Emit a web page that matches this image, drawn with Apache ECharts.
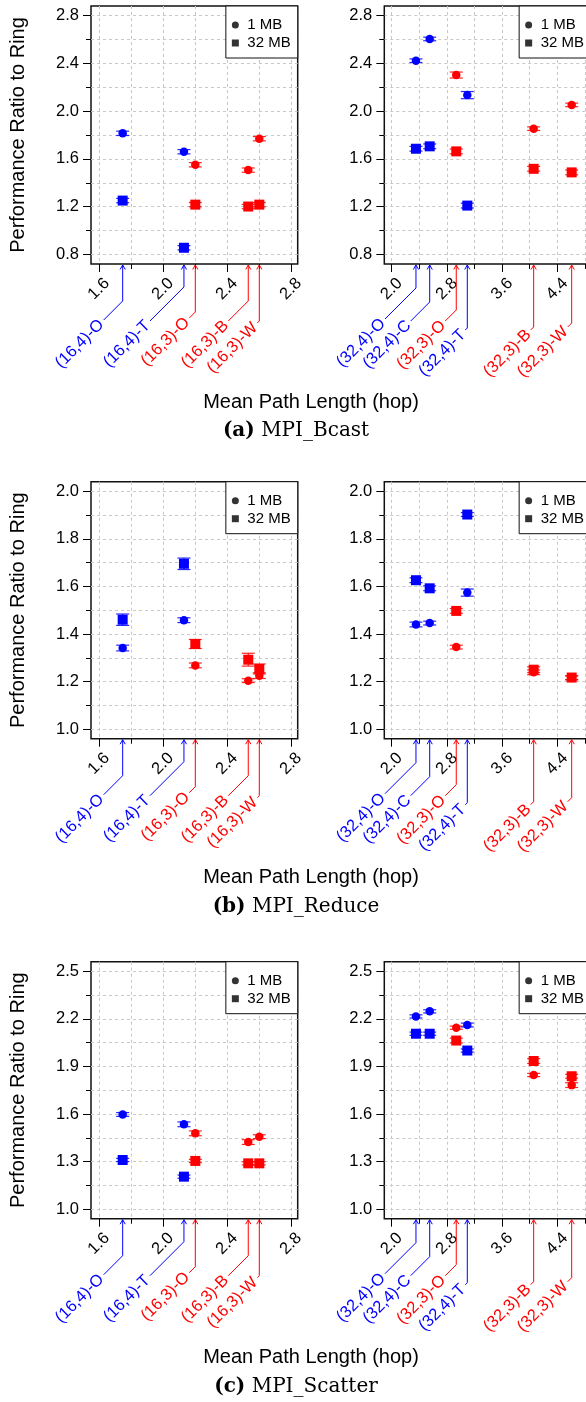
<!DOCTYPE html>
<html>
<head>
<meta charset="utf-8">
<script src="https://cdn.jsdelivr.net/npm/echarts@6/dist/echarts.min.js"></script>
<style>
  html, body { margin: 0; padding: 0; background: #fff; }
  #chart { width: 586px; height: 1402px; }
</style>
</head>
<body>
<div id="chart"></div>
<script>
// Network configurations (left: 16-node, right: 32-node) and their mean path lengths
const leftNames = ['(16,4)-O', '(16,4)-T', '(16,3)-O', '(16,3)-B', '(16,3)-W'];
const leftHops = [1.748, 2.131, 2.202, 2.533, 2.602];
const leftDegree = [4, 4, 3, 3, 3];
const rightNames = ['(32,4)-O', '(32,4)-C', '(32,3)-O', '(32,4)-T', '(32,3)-B', '(32,3)-W'];
const rightHops = [2.352, 2.551, 2.936, 3.096, 4.058, 4.609];
const rightDegree = [4, 4, 3, 4, 3, 3];

// MPI_Bcast: performance ratio to ring and error half-widths
const bcastLeft1MB = [1.814, 1.660, 1.551, 1.506, 1.769];
const bcastLeft1MBErr = [0.018, 0.018, 0.018, 0.018, 0.018];
const bcastLeft32MB = [1.251, 0.856, 1.217, 1.201, 1.217];
const bcastLeft32MBErr = [0.018, 0.018, 0.018, 0.018, 0.018];
const bcastRight1MB = [2.422, 2.604, 2.302, 2.134, 1.853, 2.052];
const bcastRight1MBErr = [0.015, 0.015, 0.025, 0.03, 0.015, 0.015];
const bcastRight32MB = [1.685, 1.705, 1.663, 1.209, 1.517, 1.487];
const bcastRight32MBErr = [0.02, 0.02, 0.02, 0.02, 0.02, 0.02];

// MPI_Reduce
const reduceLeft1MB = [1.341, 1.458, 1.268, 1.204, 1.225];
const reduceLeft1MBErr = [0.012, 0.01, 0.01, 0.008, 0.012];
const reduceLeft32MB = [1.460, 1.695, 1.358, 1.292, 1.253];
const reduceLeft32MBErr = [0.024, 0.024, 0.019, 0.027, 0.021];
const reduceRight1MB = [1.440, 1.446, 1.345, 1.574, 1.239, 1.215];
const reduceRight1MBErr = [0.01, 0.008, 0.008, 0.015, 0.01, 0.008];
const reduceRight32MB = [1.626, 1.592, 1.497, 1.902, 1.250, 1.217];
const reduceRight32MBErr = [0.01, 0.01, 0.01, 0.008, 0.012, 0.008];

// MPI_Scatter
const scatterLeft1MB = [1.597, 1.535, 1.478, 1.423, 1.457];
const scatterLeft1MBErr = [0.012, 0.015, 0.015, 0.015, 0.012];
const scatterLeft32MB = [1.310, 1.205, 1.304, 1.289, 1.289];
const scatterLeft32MBErr = [0.01, 0.01, 0.01, 0.01, 0.01];
const scatterRight1MB = [2.215, 2.247, 2.144, 2.161, 1.846, 1.782];
const scatterRight1MBErr = [0.01, 0.01, 0.01, 0.012, 0.01, 0.015];
const scatterRight32MB = [2.106, 2.106, 2.063, 2.000, 1.934, 1.838];
const scatterRight32MBErr = [0.01, 0.01, 0.015, 0.01, 0.015, 0.012];

// Tick labels and grid positions
const xTicksLeft = [1.6, 2.0, 2.4, 2.8];
const xGridLeft = [1.6, 1.8, 2.0, 2.2, 2.4, 2.6, 2.8];
const xTicksRight = [2.0, 2.8, 3.6, 4.4];
const xGridRight = [2.0, 2.4, 2.8, 3.2, 3.6, 4.0, 4.4, 4.8];
const yTicksBcast = [0.8, 1.2, 1.6, 2.0, 2.4, 2.8];
const yGridBcast = [0.8, 1.0, 1.2, 1.4, 1.6, 1.8, 2.0, 2.2, 2.4, 2.6, 2.8];
const yTicksReduce = [1.0, 1.2, 1.4, 1.6, 1.8, 2.0];
const yGridReduce = [1.0, 1.1, 1.2, 1.3, 1.4, 1.5, 1.6, 1.7, 1.8, 1.9, 2.0];
const yTicksScatter = [1.0, 1.3, 1.6, 1.9, 2.2, 2.5];
const yGridScatter = [1.0, 1.15, 1.3, 1.45, 1.6, 1.75, 1.9, 2.05, 2.2, 2.35, 2.5];

// Leader-line layout for the configuration labels under each x axis (pixels)
const leftLabelShift = [19, 34, 6, 20, 2];
const leftLabelDrop = [56, 57, 54, 57, 59];
const rightLabelShift = [31, 19, 11, 2, 3, 4];
const rightLabelDrop = [55, 57, 57, 66, 66, 63];

const BLUE = '#0000ff', RED = '#ff0000';
const SANS = '"Liberation Sans", Arial, Helvetica, sans-serif';
const SERIF = '"DejaVu Serif", "Liberation Serif", serif';
const degreeColor = d => (d === 4 ? BLUE : RED);

const rows = [
  { tag: '(a)', title: 'MPI_Bcast', top: 6, height: 258, yMin: 0.72, yMax: 2.88,
    yTicks: yTicksBcast, yGrid: yGridBcast,
    left: [bcastLeft1MB, bcastLeft1MBErr, bcastLeft32MB, bcastLeft32MBErr],
    right: [bcastRight1MB, bcastRight1MBErr, bcastRight32MB, bcastRight32MBErr] },
  { tag: '(b)', title: 'MPI_Reduce', top: 481.7, height: 257, yMin: 0.96, yMax: 2.04,
    yTicks: yTicksReduce, yGrid: yGridReduce,
    left: [reduceLeft1MB, reduceLeft1MBErr, reduceLeft32MB, reduceLeft32MBErr],
    right: [reduceRight1MB, reduceRight1MBErr, reduceRight32MB, reduceRight32MBErr] },
  { tag: '(c)', title: 'MPI_Scatter', top: 961.7, height: 257, yMin: 0.94, yMax: 2.56,
    yTicks: yTicksScatter, yGrid: yGridScatter,
    left: [scatterLeft1MB, scatterLeft1MBErr, scatterLeft32MB, scatterLeft32MBErr],
    right: [scatterRight1MB, scatterRight1MBErr, scatterRight32MB, scatterRight32MBErr] }
];

const cols = [
  { left: 91, width: 206.7, xMin: 1.55, xMax: 2.842, xTicks: xTicksLeft, xGrid: xGridLeft,
    names: leftNames, hops: leftHops, degree: leftDegree,
    shift: leftLabelShift, drop: leftLabelDrop, key: 'left' },
  { left: 384.3, width: 206.7, xMin: 1.893, xMax: 4.889, xTicks: xTicksRight, xGrid: xGridRight,
    names: rightNames, hops: rightHops, degree: rightDegree,
    shift: rightLabelShift, drop: rightLabelDrop, key: 'right' }
];

const grid = [], xAxis = [], yAxis = [], series = [], legend = [], graphic = [];
const fmt = v => v.toFixed(1);

rows.forEach((row, r) => {
  cols.forEach((col, c) => {
    const gi = grid.length;
    grid.push({
      left: col.left, top: row.top, width: col.width, height: row.height,
      show: true, borderColor: '#111', borderWidth: 1.5, backgroundColor: 'transparent',
      outerBoundsMode: 'none', containLabel: false
    });
    // main x axis: minor ticks, dashed grid lines and labels
    xAxis.push({
      type: 'value', gridIndex: gi, position: 'bottom', min: col.xMin, max: col.xMax,
      axisLine: { show: false, onZero: false },
      axisTick: { show: true, customValues: col.xGrid, length: 5, lineStyle: { color: '#000', width: 1 } },
      axisLabel: { show: true, customValues: col.xTicks, formatter: fmt, rotate: 45,
        align: 'center', verticalAlign: 'middle', margin: 25,
        fontFamily: SANS, fontSize: 16.5, color: '#000' },
      splitLine: { show: true, lineStyle: { color: '#c8c8c8', width: 1, type: [3, 3] } }
    });
    // overlay x axis: major ticks
    xAxis.push({
      type: 'value', gridIndex: gi, position: 'bottom', min: col.xMin, max: col.xMax,
      axisLine: { show: false, onZero: false },
      axisTick: { show: true, customValues: col.xTicks, length: 8, lineStyle: { color: '#000', width: 1 } },
      axisLabel: { show: false }, splitLine: { show: false }
    });
    yAxis.push({
      type: 'value', gridIndex: gi, position: 'left', min: row.yMin, max: row.yMax,
      axisLine: { show: false, onZero: false },
      axisTick: { show: true, customValues: row.yGrid, length: 5, lineStyle: { color: '#000', width: 1 } },
      axisLabel: { show: true, customValues: row.yTicks, formatter: fmt, margin: 12,
        fontFamily: SANS, fontSize: 16.5, color: '#000' },
      splitLine: { show: true, lineStyle: { color: '#c8c8c8', width: 1, type: [3, 3] } },
      name: c === 0 ? 'Performance Ratio to Ring' : '',
      nameLocation: 'middle', nameGap: 73,
      nameTextStyle: { fontFamily: SANS, fontSize: 20, color: '#000', verticalAlign: 'middle', align: 'center' }
    });
    yAxis.push({
      type: 'value', gridIndex: gi, position: 'left', min: row.yMin, max: row.yMax,
      axisLine: { show: false, onZero: false },
      axisTick: { show: true, customValues: row.yTicks, length: 8, lineStyle: { color: '#000', width: 1 } },
      axisLabel: { show: false }, splitLine: { show: false }
    });

    const xi = 2 * gi, yi = 2 * gi;
    const [v1, e1, v32, e32] = row[col.key];

    // error bars
    const errSeries = (vals, errs) => ({
      type: 'custom', xAxisIndex: xi, yAxisIndex: yi, z: 3, silent: true,
      data: col.hops.map((h, i) => [h, vals[i], errs[i], col.degree[i]]),
      renderItem(params, api) {
        const x = api.value(0), y = api.value(1), e = api.value(2);
        const colr = degreeColor(api.value(3));
        const t = api.coord([x, y + e]), b = api.coord([x, y - e]);
        const hw = 6.5;
        const st = { stroke: colr, lineWidth: 1.2, opacity: 0.85 };
        return { type: 'group', children: [
          { type: 'line', shape: { x1: t[0], y1: t[1], x2: b[0], y2: b[1] }, style: st },
          { type: 'line', shape: { x1: t[0] - hw, y1: t[1], x2: t[0] + hw, y2: t[1] }, style: st },
          { type: 'line', shape: { x1: b[0] - hw, y1: b[1], x2: b[0] + hw, y2: b[1] }, style: st }
        ] };
      }
    });
    series.push(errSeries(v1, e1), errSeries(v32, e32));

    // markers
    series.push({
      type: 'scatter', xAxisIndex: xi, yAxisIndex: yi, z: 4, silent: true,
      symbol: 'circle', symbolSize: 8.5,
      data: col.hops.map((h, i) => [h, v1[i]]),
      itemStyle: { color: p => degreeColor(col.degree[p.dataIndex]), opacity: 1 }
    });
    series.push({
      type: 'scatter', xAxisIndex: xi, yAxisIndex: yi, z: 4, silent: true,
      symbol: 'rect', symbolSize: 10,
      data: col.hops.map((h, i) => [h, v32[i]]),
      itemStyle: { color: p => degreeColor(col.degree[p.dataIndex]), opacity: 1 }
    });

    // configuration labels with arrows pointing at their mean path length
    series.push({
      type: 'custom', xAxisIndex: xi, yAxisIndex: yi, z: 5, silent: true, clip: false,
      data: col.hops.map(h => [h, row.yMin]),
      renderItem(params, api) {
        const i = params.dataIndex;
        const base = api.coord([api.value(0), api.value(1)]);
        const px = base[0], pb = base[1];
        const d = col.shift[i];
        const ey = pb + col.drop[i];
        const ex = px - d;
        const by = ey - d;
        const colr = degreeColor(col.degree[i]);
        const st = { stroke: colr, lineWidth: 1, fill: null };
        const g = 2.2;
        return { type: 'group', children: [
          { type: 'polyline', shape: { points: [[px, pb + 1], [px, by], [ex, ey]] }, style: st },
          { type: 'polyline', shape: { points: [[px - 2.6, pb + 5.5], [px, pb + 1], [px + 2.6, pb + 5.5]] }, style: st },
          { type: 'text', x: ex - g, y: ey + g, rotation: Math.PI / 4,
            style: { text: col.names[i], fill: colr, fontFamily: SANS, fontSize: 16.5,
              align: 'right', verticalAlign: 'middle' } }
        ] };
      }
    });

    // legend box
    legend.push({
      orient: 'vertical', right: 586 - (col.left + col.width), top: row.top,
      padding: [11, 7, 7, 6], itemWidth: 14, itemHeight: 7, itemGap: 2,
      backgroundColor: '#fff', borderColor: '#111', borderWidth: 1, borderRadius: 0,
      selectedMode: false,
      data: [{ name: '1 MB', icon: 'circle' }, { name: '32 MB', icon: 'path://M0,0H10V10H0Z' }],
      textStyle: { fontFamily: SANS, fontSize: 15, color: '#000', lineHeight: 16 }
    });
  });

  graphic.push({
    type: 'text', x: 311, y: row.top + 396, z: 10,
    style: { text: 'Mean Path Length (hop)', fill: '#000', fontFamily: SANS, fontSize: 20,
      align: 'center', verticalAlign: 'middle' }
  });
  graphic.push({
    type: 'text', x: 296, y: row.top + 425, z: 10,
    style: { text: '{b|' + row.tag + '} ' + row.title, fill: '#000',
      fontFamily: SERIF, fontSize: 20,
      align: 'center', verticalAlign: 'middle',
      rich: { b: { fontWeight: 'bold', fontFamily: SERIF, fontSize: 20, fill: '#000' } } }
  });
});

// legend entries (black keys)
series.push(
  { type: 'scatter', name: '1 MB', xAxisIndex: 0, yAxisIndex: 0, data: [], symbol: 'circle', itemStyle: { color: '#000' } },
  { type: 'scatter', name: '32 MB', xAxisIndex: 0, yAxisIndex: 0, data: [], symbol: 'rect', itemStyle: { color: '#000' } }
);

const chart = echarts.init(document.getElementById('chart'), null, { renderer: 'canvas' });
chart.setOption({
  animation: false,
  backgroundColor: '#fff',
  grid, xAxis, yAxis, series, legend, graphic
});
</script>
</body>
</html>
